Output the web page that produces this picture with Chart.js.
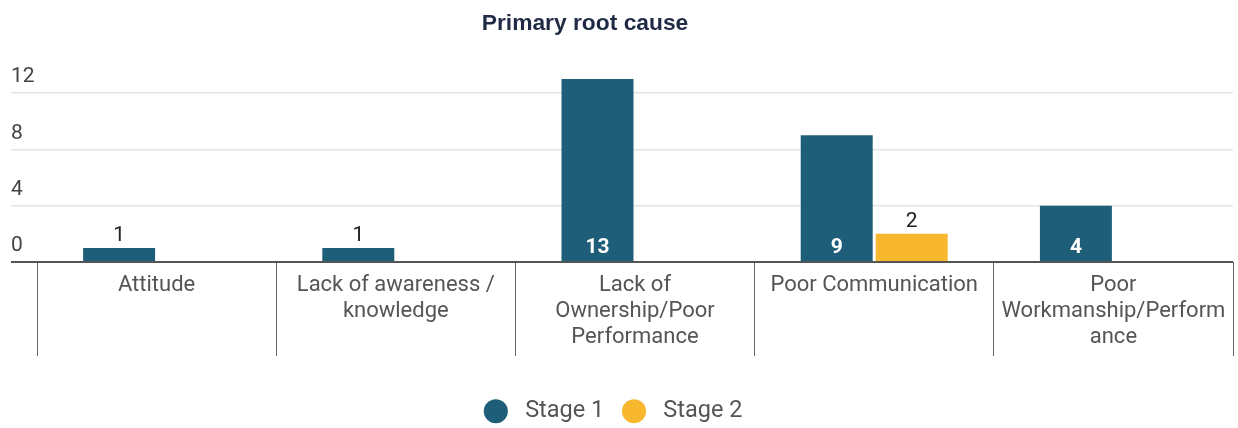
<!DOCTYPE html>
<html>
<head>
<meta charset="utf-8">
<script src="https://cdn.jsdelivr.net/npm/chart.js@4.4.1/dist/chart.umd.min.js"></script>
<style>
    html, body { margin: 0; padding: 0; background: #fff; }
    #wrap { width: 1238px; height: 428px; }
</style>
</head>
<body>
<div id="wrap"><canvas id="rootCauseChart" width="1238" height="428"></canvas></div>
<script>
        // Data
        const chartTitle = 'Primary root cause';
        const categories = [
            'Attitude',
            ['Lack of awareness /', 'knowledge'],
            ['Lack of', 'Ownership/Poor', 'Performance'],
            'Poor Communication',
            ['Poor', 'Workmanship/Perform', 'ance']
        ];
        const seriesNames = ['Stage 1', 'Stage 2'];
        const stage1Values = [1, 1, 13, 9, 4];
        const stage2Values = [null, null, null, 2, null];
        const yTicks = [0, 4, 8, 12];

        Chart.defaults.font.family = 'Roboto';

        // Title sits a little left of centre in the source
        const titlePlugin = {
            id: 'offsetTitle',
            afterDraw(chart) {
                const ctx = chart.ctx;
                ctx.save();
                ctx.font = 'bold 22.8px "Liberation Sans", Arial, sans-serif';
                ctx.fillStyle = '#1f2a44';
                ctx.textAlign = 'center';
                ctx.textBaseline = 'alphabetic';
                ctx.fillText(chartTitle, 585, 30);
                ctx.restore();
            }
        };

        // Value labels: inside for tall bars, above for short ones
        const valueLabels = {
            id: 'valueLabels',
            afterDatasetsDraw(chart) {
                const ctx = chart.ctx;
                ctx.save();
                ctx.textAlign = 'center';
                ctx.textBaseline = 'middle';
                chart.data.datasets.forEach((ds, di) => {
                    chart.getDatasetMeta(di).data.forEach((bar, i) => {
                        const v = ds.data[i];
                        if (v == null) return;
                        if (v >= 4) {
                            ctx.font = 'bold 21px Roboto';
                            ctx.fillStyle = '#ffffff';
                            ctx.fillText(String(v), bar.x, bar.base - 13);
                        } else {
                            ctx.font = '21px Roboto';
                            ctx.fillStyle = '#222222';
                            ctx.fillText(String(v), bar.x, bar.y - 12.5);
                        }
                    });
                });
                ctx.restore();
            }
        };

        new Chart(document.getElementById('rootCauseChart'), {
            type: 'bar',
            data: {
                labels: categories,
                datasets: [
                    { label: seriesNames[0], data: stage1Values, backgroundColor: '#1f5e79' },
                    { label: seriesNames[1], data: stage2Values, backgroundColor: '#f7b82e' }
                ]
            },
            options: {
                responsive: false,
                animation: false,
                events: [],
                categoryPercentage: 0.627,
                barPercentage: 0.96,
                layout: { padding: { top: 79, left: 11, right: 5, bottom: -5 } },
                scales: {
                    x: {
                        afterFit(scale) { scale.height = 119.5; },
                        border: { display: false },
                        grid: { drawOnChartArea: false, tickLength: 94, color: '#666', lineWidth: 1 },
                        ticks: {
                            padding: -83, maxRotation: 0, autoSkip: false,
                            color: '#555', font: { size: 22, lineHeight: 1.18 }
                        }
                    },
                    y: {
                        min: 0,
                        max: 13,
                        afterFit(scale) { scale.width = 26; },
                        afterBuildTicks(scale) { scale.ticks = yTicks.map(v => ({ value: v })); },
                        border: { display: false },
                        grid: {
                            tickLength: 26,
                            color: c => (c.tick && c.tick.value === 0) ? '#555' : '#e3e3e3',
                            lineWidth: c => (c.tick && c.tick.value === 0) ? 2 : 1.5
                        },
                        ticks: { crossAlign: 'far', labelOffset: -16, padding: 0, color: '#444', font: { size: 21 } }
                    }
                },
                plugins: {
                    title: { display: false },
                    tooltip: { enabled: false },
                    legend: {
                        position: 'bottom',
                        labels: {
                            usePointStyle: true,
                            pointStyle: 'circle',
                            boxHeight: 17,
                            boxWidth: 23.5,
                            padding: 18,
                            color: '#555',
                            font: { size: 23.5 },
                            generateLabels(chart) {
                                const items = Chart.defaults.plugins.legend.labels.generateLabels(chart);
                                return items.map((l, i) => Object.assign(l, {
                                    text: ' ' + l.text + (i === items.length - 1 ? '   ' : ''),
                                    lineWidth: 0
                                }));
                            }
                        }
                    }
                }
            },
            plugins: [titlePlugin, valueLabels]
        });
    </script>
</body>
</html>
